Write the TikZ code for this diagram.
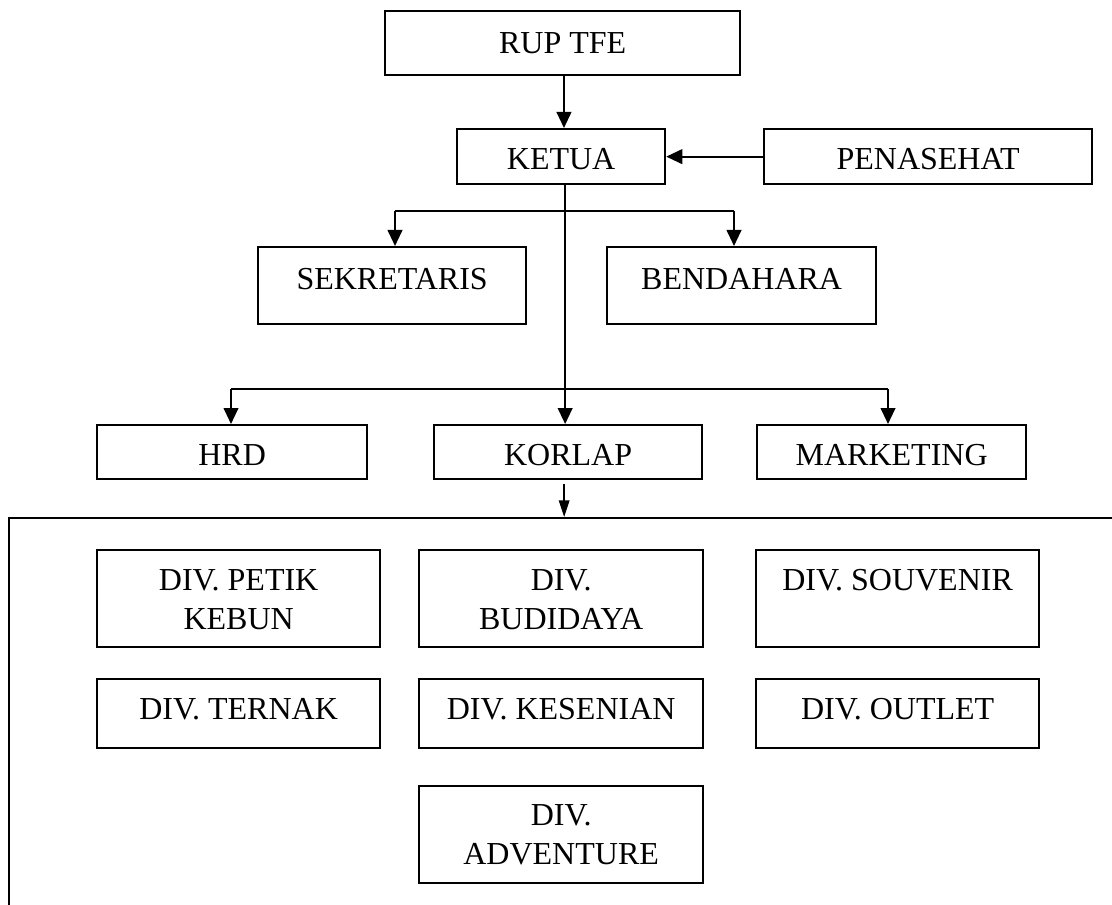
\documentclass[tikz,border=0pt]{standalone}
\usepackage{fontspec}
\setmainfont{Liberation Serif}
\usetikzlibrary{arrows.meta}
\begin{document}
\begin{tikzpicture}[x=0.75pt,y=-0.75pt,
  box/.style={draw, line width=1.7pt, rectangle, inner sep=0pt, anchor=north west,
    align=center, font=\fontsize{24}{29.25}\selectfont, text height=30pt},
  conn/.style={line width=1.5pt},
  arr/.style={line width=1.5pt, -{Triangle[length=12pt,width=11pt]}},
  thinarr/.style={line width=1pt, -{Triangle[length=12.5pt,width=8pt]}},
  frame/.style={draw, line width=1.7pt, rectangle, inner sep=0pt, anchor=north west}]
\useasboundingbox (0,0) rectangle (1112,905);
\fill[white] (0,0) rectangle (1112,905);

% top levels
\node[box, minimum width=266.25pt, text height=31.5pt, text depth=16.5pt] (rup) at (384,10) {RUP TFE};
\node[box, minimum width=156pt, text depth=11.25pt] (ketua) at (456,128) {KETUA};
\node[box, minimum width=246pt, text depth=11.25pt] (penasehat) at (763,128) {PENASEHAT};
\node[box, minimum width=201pt, text height=31.5pt, text depth=26.25pt] (sek) at (257,246) {SEKRETARIS};
\node[box, minimum width=201.75pt, text height=31.5pt, text depth=26.25pt] (bend) at (606,246) {BENDAHARA};
\node[box, minimum width=202.5pt, text depth=10.5pt] (hrd) at (96,424) {HRD};
\node[box, minimum width=201pt, text depth=10.5pt] (korlap) at (433,424) {KORLAP};
\node[box, minimum width=201.75pt, text depth=10.5pt] (mkt) at (756,424) {MARKETING};

% division frame
\node[frame, minimum width=840pt, minimum height=310pt] (divs) at (8,517) {};

% divisions
\node[box, minimum width=212.25pt, text height=59.25pt, text depth=13.5pt] (petik) at (96,549) {DIV. PETIK\\KEBUN};
\node[box, minimum width=213pt, text height=59.25pt, text depth=13.5pt] (budidaya) at (418,549) {DIV.\\BUDIDAYA};
\node[box, minimum width=212.25pt, text depth=42.75pt] (souvenir) at (755,549) {DIV. SOUVENIR};
\node[box, minimum width=212.25pt, text depth=21.75pt] (ternak) at (96,678) {DIV. TERNAK};
\node[box, minimum width=213pt, text depth=21.75pt] (kesenian) at (418,678) {DIV. KESENIAN};
\node[box, minimum width=212.25pt, text depth=21.75pt] (outlet) at (755,678) {DIV. OUTLET};
\node[box, minimum width=213pt, text height=58.5pt, text depth=14.25pt] (adventure) at (418,785) {DIV.\\ADVENTURE};

% connectors
\draw[arr] ([xshift=1pt]rup.south) -- ([xshift=1pt]rup.south |- ketua.north);
\draw[arr] (penasehat.west) -- (ketua.east);
\draw[arr] ([xshift=3pt]ketua.south) -- ([xshift=3pt]ketua.south |- korlap.north);

\coordinate (b1) at (395,211);
\coordinate (b2) at (734,211);
\draw[conn] (b1) -- (b2);
\draw[arr] (b1) -- (b1 |- sek.north);
\draw[arr] (b2) -- (b2 |- bend.north);

\coordinate (c1) at (231,389);
\coordinate (c2) at (888,389);
\draw[conn] (c1) -- (c2);
\draw[arr] (c1) -- (c1 |- hrd.north);
\draw[arr] (c2) -- (c2 |- mkt.north);

\draw[thinarr] ([xshift=-3pt,yshift=-3pt]korlap.south) -- ([xshift=-3pt]korlap.south |- divs.north);
\end{tikzpicture}
\end{document}
